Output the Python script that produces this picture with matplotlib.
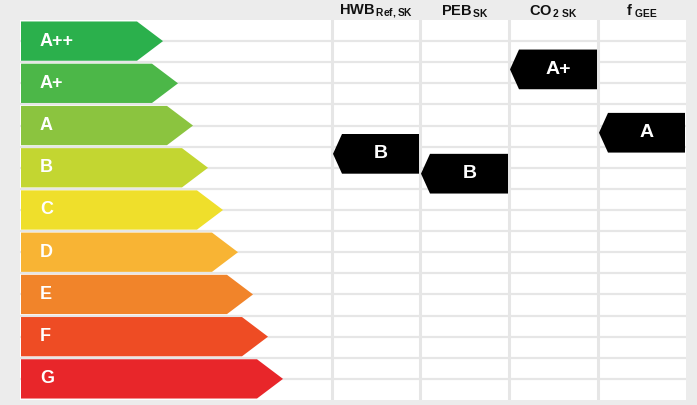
import matplotlib.pyplot as plt
from matplotlib.patches import Polygon
import numpy as np

plt.rcParams['font.family'] = ['Liberation Sans', 'DejaVu Sans']
plt.rcParams['mathtext.fontset'] = 'custom'
plt.rcParams['mathtext.bf'] = 'Liberation Sans:bold'
plt.rcParams['mathtext.rm'] = 'Liberation Sans:bold'

classes = ['A++', 'A+', 'A', 'B', 'C', 'D', 'E', 'F', 'G']
class_colors = ['#2bb04c', '#4cb748', '#8bc43f', '#c3d631', '#efdf2b',
                '#f8b434', '#f1842a', '#ee4c24', '#e8262a']
metrics = [r'HWB$_{\,\mathrm{Ref,SK}}$', r'PEB$_{\,\mathrm{SK}}$',
           r'CO$_{\,\mathrm{2\ SK}}$', r'f$_{\ \mathrm{GEE}}$']
# marker position on the class scale (0 = top of A++, 9 = bottom of G)
marker_pos = [3.17, 3.64, 1.17, 2.67]
marker_labels = ['B', 'B', 'A+', 'A']

W, H = 697, 405
fig = plt.figure(figsize=(W / 100, H / 100), dpi=100, facecolor='#ececec')
x0, x1, y0, y1 = 20, 686, 20, 400
ax = fig.add_axes([x0 / W, 1 - y1 / H, (x1 - x0) / W, (y1 - y0) / H])
ax.set_facecolor('white')
pw = x1 - x0
ax.set_xlim(0, pw)
ax.set_ylim(len(classes), 0)
ax.axis('off')
ax.add_patch(plt.Rectangle((0, 0), pw, len(classes), color='white', zorder=0))

grid_c = '#e6e6e6'
for y in np.arange(0.5, len(classes), 0.5):
    ax.axhline(y, color=grid_c, lw=1.6, zorder=1)
col_edges = [312, 400, 489, 578, pw]
for x in col_edges[:-1]:
    ax.axvline(x, color=grid_c, lw=2.2, zorder=1)

# class arrows
for i, (lab, c) in enumerate(zip(classes, class_colors)):
    tip = 143 + 15 * i
    top, bot = i + 0.035, i + 0.965
    ax.add_patch(Polygon([(1, top), (tip - 26, top), (tip, i + 0.5),
                          (tip - 26, bot), (1, bot)], closed=True,
                         color=c, lw=0, zorder=2))
    ax.text(20, i + 0.5, lab, color='white', fontsize=13, fontweight='bold',
            ha='left', va='center', zorder=3)

# header labels and black indicators
for k, (m, v, lab) in enumerate(zip(metrics, marker_pos, marker_labels)):
    left, right = col_edges[k], col_edges[k + 1]
    cx = (left + right) / 2
    ax.text(cx, -0.2, m, fontsize=10.5, fontweight='bold', ha='center',
            va='center', color='#111111', clip_on=False)
    top, bot = v - 0.47, v + 0.47
    ax.add_patch(Polygon([(left + 1, v), (left + 10, top), (right - 1, top),
                          (right - 1, bot), (left + 10, bot)], closed=True,
                         color='black', lw=0, zorder=4))
    ax.text((left + 10 + right) / 2, v, lab, color='white', fontsize=14,
            fontweight='bold', ha='center', va='center', zorder=5)

fig.savefig('out.png', dpi=100, facecolor=fig.get_facecolor())
